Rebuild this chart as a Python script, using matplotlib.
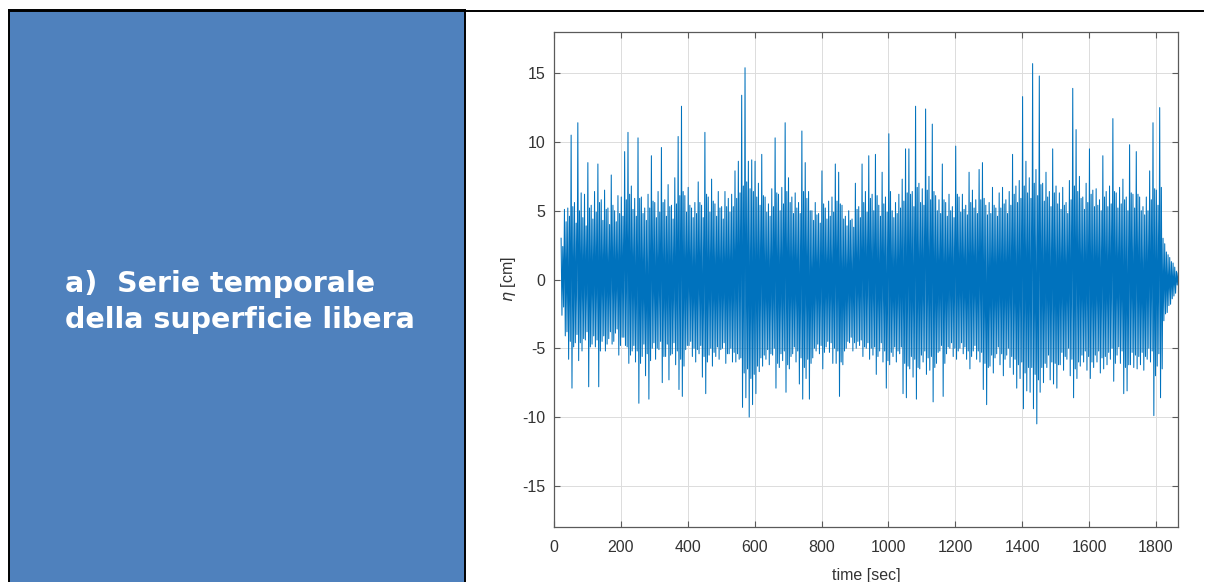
import numpy as np
import matplotlib
matplotlib.use("Agg")
import matplotlib.pyplot as plt
from matplotlib.lines import Line2D

# free surface elevation [cm], each 10 s window from t = 20 s:
# highest crest, deepest trough, then the next crest and trough
eta_crest = [
    3.0, 5.1, 5.2, 10.5, 5.6, 11.4, 6.3, 6.2, 8.5, 5.4,
    6.4, 8.4, 5.8, 6.5, 5.2, 7.6, 5.0, 6.1, 6.0, 9.3,
    10.7, 6.8, 5.9, 10.3, 6.0, 5.2, 6.2, 9.0, 5.6, 6.4,
    9.6, 5.8, 6.9, 5.4, 7.4, 10.4, 12.6, 6.1, 6.7, 5.2,
    5.6, 7.1, 5.4, 10.7, 6.0, 7.3, 5.5, 6.4, 5.3, 6.4,
    5.9, 6.2, 7.9, 8.6, 13.4, 15.4, 8.6, 8.7, 8.6, 7.0,
    9.1, 6.0, 5.5, 6.6, 10.3, 6.2, 6.7, 11.4, 7.4, 6.0,
    6.3, 5.6, 10.8, 8.5, 6.4, 5.0, 5.6, 4.8, 7.9, 5.2,
    5.7, 6.0, 8.4, 7.8, 5.4, 4.6, 5.0, 4.4, 7.0, 5.3,
    8.4, 6.4, 9.0, 6.2, 9.1, 5.4, 7.8, 6.0, 10.6, 5.0,
    5.6, 6.2, 7.3, 9.5, 9.5, 6.4, 12.6, 7.0, 6.6, 12.4,
    7.5, 11.3, 6.1, 5.8, 8.4, 5.6, 6.2, 5.3, 9.7, 6.0,
    6.2, 5.4, 7.8, 6.5, 5.8, 8.0, 8.5, 5.4, 5.6, 6.7,
    5.2, 6.3, 6.7, 5.8, 6.4, 9.1, 6.8, 7.2, 13.3, 8.6,
    7.4, 15.7, 8.0, 14.8, 7.0, 7.8, 6.4, 9.5, 6.8, 6.3,
    6.7, 5.6, 7.2, 13.9, 10.9, 7.5, 6.0, 7.0, 9.5, 6.5,
    6.6, 5.8, 9.0, 6.4, 6.8, 11.7, 6.3, 6.7, 7.3, 6.0,
    9.8, 6.2, 9.3, 6.0, 5.3, 6.0, 7.9, 11.4, 6.5, 12.5,
    3.0, 2.0, 1.6, 1.2, 0.6,
]
eta_trough = [
    -2.6, -4.1, -5.8, -7.9, -4.6, -5.9, -5.2, -4.4, -7.8, -4.7,
    -4.9, -7.8, -4.5, -5.2, -4.3, -4.7, -3.9, -5.5, -4.2, -4.8,
    -6.1, -5.2, -6.0, -9.0, -5.6, -7.0, -8.7, -5.0, -5.8, -5.1,
    -7.5, -5.6, -7.3, -5.4, -6.2, -8.0, -8.5, -5.1, -4.8, -5.6,
    -6.0, -5.4, -7.1, -8.3, -5.5, -6.3, -5.6, -5.8, -5.0, -6.1,
    -5.4, -6.0, -6.0, -5.8, -9.3, -8.6, -10.0, -9.1, -8.3, -6.7,
    -6.3, -5.8, -6.2, -5.5, -7.9, -6.4, -5.9, -8.2, -6.5, -5.4,
    -6.0, -7.6, -8.7, -7.2, -8.7, -5.7, -5.2, -5.4, -6.5, -4.9,
    -5.3, -6.1, -6.1, -8.5, -6.2, -5.0, -4.6, -5.2, -5.0, -4.8,
    -5.6, -5.0, -5.8, -5.5, -6.9, -5.2, -6.0, -7.9, -6.2, -5.6,
    -6.0, -5.4, -8.3, -8.6, -6.5, -7.1, -8.7, -6.5, -6.0, -6.9,
    -6.6, -8.9, -6.1, -5.2, -8.5, -5.4, -5.0, -5.6, -5.8, -5.0,
    -5.4, -5.8, -6.5, -5.2, -5.8, -6.0, -8.0, -9.1, -6.3, -6.8,
    -5.4, -6.2, -7.0, -5.5, -6.4, -6.9, -7.9, -7.2, -9.4, -8.1,
    -8.2, -9.4, -10.5, -8.2, -7.5, -6.4, -7.3, -7.6, -7.9, -6.2,
    -6.6, -5.8, -7.0, -8.6, -7.2, -6.3, -6.0, -6.6, -7.2, -6.4,
    -6.0, -6.8, -6.5, -6.2, -5.8, -7.4, -5.5, -6.1, -8.3, -8.1,
    -6.2, -6.4, -6.5, -6.2, -6.6, -5.8, -6.0, -9.9, -6.3, -8.6,
    -3.0, -2.4, -1.8, -1.2, -0.4,
]
eta_crest2 = [
    2.4, 4.2, 4.6, 5.3, 4.1, 5.0, 4.5, 3.9, 5.2, 4.4,
    4.9, 5.6, 4.3, 5.1, 4.0, 5.4, 4.2, 4.8, 4.6, 5.8,
    6.2, 5.1, 4.6, 5.9, 4.8, 4.3, 5.2, 5.7, 4.5, 4.9,
    5.6, 4.6, 5.3, 4.4, 5.5, 6.1, 6.4, 4.9, 5.4, 4.5,
    4.8, 5.6, 4.5, 6.2, 4.9, 5.7, 4.6, 5.2, 4.4, 5.3,
    4.9, 5.3, 5.9, 6.3, 6.8, 7.1, 6.6, 6.4, 6.0, 5.4,
    6.1, 4.9, 4.6, 5.3, 6.3, 5.0, 5.5, 6.4, 5.6, 4.8,
    5.2, 4.8, 6.4, 5.9, 5.0, 4.3, 4.7, 4.1, 5.5, 4.4,
    4.6, 4.9, 5.7, 5.5, 4.4, 3.9, 4.3, 3.8, 5.1, 4.5,
    5.6, 4.9, 5.9, 5.0, 6.1, 4.6, 5.5, 4.9, 6.4, 4.5,
    4.8, 5.2, 5.7, 6.3, 6.2, 5.3, 6.7, 5.6, 5.4, 6.5,
    5.8, 6.4, 5.0, 4.8, 5.8, 4.6, 5.0, 4.5, 6.2, 4.9,
    5.1, 4.7, 5.6, 5.2, 4.8, 5.8, 5.9, 4.7, 4.8, 5.4,
    4.6, 5.2, 5.5, 4.8, 5.4, 6.2, 5.6, 5.9, 6.8, 6.3,
    5.9, 7.0, 6.1, 6.9, 5.7, 6.0, 5.3, 6.3, 5.5, 5.1,
    5.4, 4.8, 5.8, 6.8, 6.4, 5.9, 5.1, 5.6, 6.2, 5.3,
    5.4, 5.0, 6.0, 5.3, 5.5, 6.4, 5.2, 5.5, 5.8, 5.0,
    6.3, 5.2, 6.2, 5.0, 4.7, 5.0, 5.8, 6.6, 5.4, 6.7,
    2.6, 1.8, 1.3, 0.9, 0.5,
]
eta_trough2 = [
    -2.0, -3.8, -4.5, -4.9, -4.0, -4.6, -4.3, -3.8, -4.9, -4.1,
    -4.4, -5.2, -4.1, -4.7, -3.8, -4.5, -3.6, -4.8, -4.2, -4.9,
    -5.5, -4.8, -5.2, -6.1, -4.7, -5.4, -5.9, -4.6, -5.0, -4.5,
    -5.6, -4.7, -5.5, -4.6, -5.2, -5.8, -6.3, -4.8, -4.5, -5.0,
    -5.1, -4.8, -5.6, -6.0, -5.0, -5.3, -4.9, -5.1, -4.6, -5.4,
    -5.0, -5.3, -5.4, -5.7, -6.8, -6.5, -7.2, -6.9, -6.3, -5.7,
    -5.5, -5.1, -5.4, -5.0, -6.1, -5.4, -5.2, -6.2, -5.6, -4.9,
    -5.2, -5.7, -6.4, -5.8, -6.1, -5.0, -4.7, -4.8, -5.3, -4.5,
    -4.6, -5.0, -5.2, -6.0, -5.2, -4.5, -4.2, -4.6, -4.5, -4.4,
    -4.9, -4.6, -5.0, -4.9, -5.6, -4.6, -5.2, -5.9, -5.3, -4.9,
    -5.2, -4.9, -6.1, -6.3, -5.6, -5.8, -6.4, -5.5, -5.2, -5.7,
    -5.6, -6.4, -5.3, -4.8, -6.1, -4.9, -4.6, -5.0, -5.2, -4.6,
    -4.9, -5.2, -5.6, -4.8, -5.2, -5.3, -6.1, -6.4, -5.5, -5.7,
    -4.9, -5.4, -5.8, -5.0, -5.6, -5.8, -6.2, -6.0, -6.8, -6.4,
    -6.4, -6.9, -7.3, -6.4, -6.1, -5.5, -6.0, -6.1, -6.2, -5.3,
    -5.6, -5.0, -5.8, -6.5, -6.0, -5.5, -5.2, -5.6, -6.0, -5.5,
    -5.2, -5.7, -5.6, -5.3, -5.0, -6.1, -4.9, -5.2, -6.4, -6.2,
    -5.3, -5.5, -5.6, -5.3, -5.6, -5.0, -5.2, -7.0, -5.4, -6.5,
    -2.5, -1.9, -1.4, -1.0, -0.4,
]
t_start = 20.0   # s
window = 10.0    # s

time_ticks = [0, 200, 400, 600, 800, 1000, 1200, 1400, 1600, 1800]
eta_ticks = [-15, -10, -5, 0, 5, 10, 15]

W, H = 1205, 582
plt.rcParams["axes.unicode_minus"] = False


def main():
    n = len(eta_crest)
    t0 = t_start + window * np.arange(n)
    t = np.column_stack([t0 + 0.125 * window, t0 + 0.375 * window,
                         t0 + 0.625 * window, t0 + 0.875 * window]).ravel()
    eta = np.column_stack([eta_crest, eta_trough,
                           eta_crest2, eta_trough2]).ravel()

    fig = plt.figure(figsize=(W / 100, H / 100), dpi=100)

    # title box on the left
    box = fig.add_axes([9 / W, 0, (465 - 9) / W, (H - 10) / H])
    box.set_facecolor("#4F81BD")
    box.set_xticks([])
    box.set_yticks([])
    box.set_xlim(9, 465)
    box.set_ylim(H, 10)
    for side in ("left", "top", "right"):
        box.spines[side].set_color("black")
        box.spines[side].set_linewidth(1.4)
    box.spines["bottom"].set_visible(False)
    for txt, y in (("a)  Serie temporale", 292), ("della superficie libera", 328)):
        box.text(65, y, txt, color="white", fontsize=20.5, fontweight="bold",
                 family="DejaVu Sans", ha="left", va="baseline")

    fig.add_artist(Line2D([9 / W, 1203 / W], [1 - 10.5 / H, 1 - 10.5 / H],
                          color="black", lw=1.4))

    # time series
    ax = fig.add_axes([554 / W, 1 - 527 / H, (1178 - 554) / W, (527 - 32) / H])
    ax.plot(t, eta, color="#0072BD", lw=0.75)
    ax.set_xlim(0, 1866)
    ax.set_ylim(-18, 18)
    ax.set_xticks(time_ticks)
    ax.set_yticks(eta_ticks)
    ax.grid(True, color="#dcdcdc", lw=0.7)
    ax.set_axisbelow(True)
    for s in ax.spines.values():
        s.set_color("#5a5a5a")
        s.set_linewidth(0.9)
    ax.tick_params(direction="in", length=4, width=0.8, color="#5a5a5a",
                   top=True, right=True, labelsize=11.5, labelcolor="#333333")
    ax.tick_params(axis="x", pad=9)
    ax.tick_params(axis="y", pad=6)
    for lab in ax.get_xticklabels() + ax.get_yticklabels():
        lab.set_family("Liberation Sans")
    ax.set_xlabel("time [sec]", fontsize=11.5, color="#333333",
                  family="Liberation Sans", labelpad=10)
    ax.set_ylabel(r"$\eta$ [cm]", fontsize=11.5, color="#333333",
                  family="Liberation Sans", labelpad=3)

    fig.savefig("out.png", dpi=100)


if __name__ == "__main__":
    main()
